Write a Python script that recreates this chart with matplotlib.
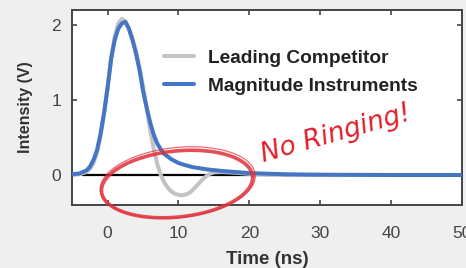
import numpy as np
import matplotlib.pyplot as plt

# pulse response (time in ns, intensity in V)
t_comp = [-5, -4, -3, -2.5, -2, -1.5, -1, -0.5, 0, 0.5, 1, 1.5, 2, 2.5, 3, 3.5, 4, 4.5,
          5, 5.5, 6, 6.5, 7, 7.5, 8, 8.5, 9, 9.5, 10, 10.5, 11, 11.5, 12, 12.5, 13,
          13.5, 14, 14.5, 15, 16, 17, 18, 20, 22, 25, 30, 40, 50]
v_comp = [0.0, 0.01, 0.04, 0.08, 0.16, 0.3, 0.52, 0.82, 1.17, 1.57, 1.85, 2.02, 2.08,
          2.05, 1.95, 1.82, 1.65, 1.43, 1.18, 0.9, 0.6, 0.35, 0.15, 0.0, -0.1, -0.17,
          -0.22, -0.25, -0.265, -0.27, -0.26, -0.24, -0.2, -0.15, -0.1, -0.05, -0.01,
          0.02, 0.035, 0.04, 0.035, 0.03, 0.015, 0.005, 0.0, 0.0, 0.0, 0.0]

t_mag = [-5, -4, -3, -2.5, -2, -1.5, -1, -0.5, 0, 0.5, 1, 1.5, 2, 2.5, 3, 3.5, 4, 4.5,
         5, 5.5, 6, 6.5, 7, 7.5, 8, 9, 10, 11, 12, 14, 16, 18, 20, 25, 30, 40, 50]
v_mag = [0.01, 0.02, 0.06, 0.11, 0.2, 0.33, 0.55, 0.83, 1.17, 1.55, 1.8, 1.95, 2.02,
         2.04, 1.95, 1.8, 1.62, 1.4, 1.12, 0.9, 0.7, 0.54, 0.42, 0.34, 0.28, 0.21,
         0.16, 0.13, 0.105, 0.075, 0.055, 0.04, 0.025, 0.01, 0.004, 0.0, 0.0]

labels = ["Leading Competitor", "Magnitude Instruments"]
xticks = [0, 10, 20, 30, 40, 50]
yticks = [0, 1, 2]

plt.rcParams['font.family'] = ['Liberation Sans', 'DejaVu Sans']

fig = plt.figure(figsize=(4.66, 2.68), dpi=100, facecolor='#efefef')
ax = fig.add_axes([0.155, 0.235, 0.836, 0.728])
ax.set_facecolor('white')

ax.plot([-3.5, 50], [0, 0], color='black', lw=1.6, zorder=1)
ax.plot(t_comp, v_comp, color='#c3c3c6', lw=2.9, label=labels[0], zorder=2,
        solid_capstyle='round')
ax.plot(t_mag, v_mag, color='#4576c3', lw=2.9, label=labels[1], zorder=3,
        solid_capstyle='round')

ax.set_xlim(-5, 50)
ax.set_ylim(-0.4, 2.2)
ax.set_xticks(xticks)
ax.set_yticks(yticks)
ax.tick_params(direction='in', top=True, right=True, length=3.5, width=1.2,
               color='#444444', labelcolor='#444444', labelsize=12.5)
ax.tick_params(axis='x', pad=15)
ax.tick_params(axis='y', pad=8)
for s in ax.spines.values():
    s.set_color('#444444')
    s.set_linewidth(1.4)

ax.set_xlabel("Time (ns)", fontsize=13.5, fontweight='bold', color='#333333', labelpad=7)
ax.set_ylabel("Intensity (V)", fontsize=11.5, fontweight='bold', color='#333333', labelpad=13)

leg = ax.legend(loc='upper left', bbox_to_anchor=(0.192, 0.885), frameon=False,
                prop={'size': 13.8, 'weight': 'bold'}, handlelength=1.55,
                handletextpad=0.73, labelspacing=0.55)
for txt in leg.get_texts():
    txt.set_color('#222222')

# hand drawn loop around the ringing region (pixel sizes converted to data units)
px_t = 390 / 55.0
px_v = 195 / 2.6
phi = np.linspace(0, 2 * np.pi, 200)
ang = np.deg2rad(6)
for a, b, lw, al, dt, dv in [(76, 33, 2.6, 0.85, 9.8, -0.12), (78, 35, 0.9, 0.7, 9.9, -0.1)]:
    xp = a * np.cos(phi) * np.cos(ang) - b * np.sin(phi) * np.sin(ang)
    yp = a * np.cos(phi) * np.sin(ang) + b * np.sin(phi) * np.cos(ang)
    ax.plot(dt + xp / px_t, dv + yp / px_v, color='#e0303a', lw=lw, alpha=al,
            clip_on=False, zorder=4)

ax.text(32.2, 0.55, "No Ringing!", color='#e01f2a', fontsize=19, fontstyle='italic',
        rotation=16, ha='center', va='center', family=['DejaVu Sans'], zorder=5)

fig.savefig('out.png', dpi=100, facecolor=fig.get_facecolor())
